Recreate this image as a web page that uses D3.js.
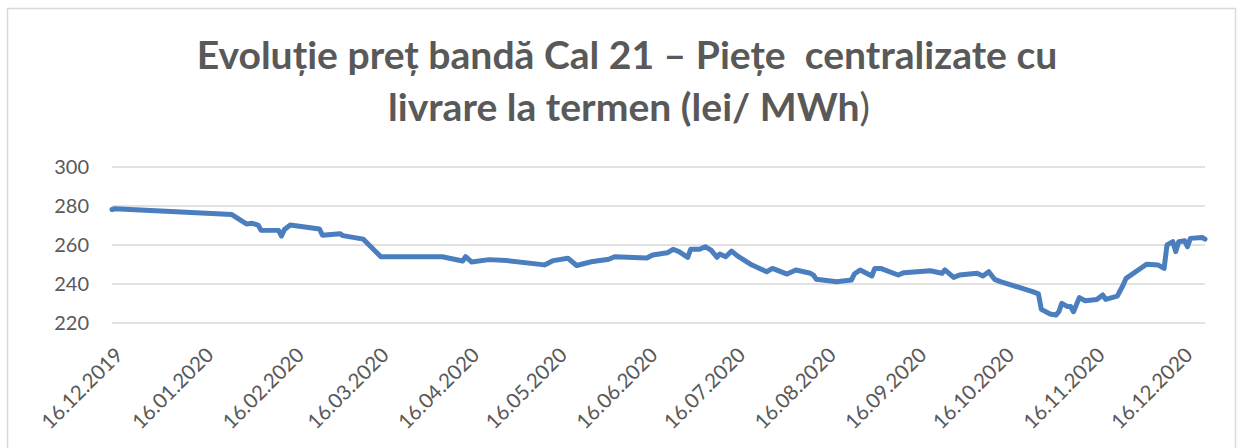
<!DOCTYPE html>
<html>
<head>
<meta charset="utf-8">
<script src="https://cdn.jsdelivr.net/npm/d3@7"></script>
<style>
  body { margin: 0; background: #fff; }
  text { font-family: Lato, "Liberation Sans", sans-serif; fill: #595959; }
</style>
</head>
<body>
<div id="chart"></div>
<script>
//////////////////////////////////////////////////////////////////////////////
// Data: Cal 21 band price (lei/MWh)

var dates = [
  "16.12.2019", "17.12.2019", "26.01.2020", "31.01.2020", "02.02.2020",
  "04.02.2020", "05.02.2020", "11.02.2020", "12.02.2020", "13.02.2020",
  "15.02.2020", "25.02.2020", "26.02.2020", "03.03.2020", "04.03.2020",
  "11.03.2020", "17.03.2020", "07.04.2020", "14.04.2020", "15.04.2020",
  "17.04.2020", "23.04.2020", "29.04.2020", "12.05.2020", "15.05.2020",
  "20.05.2020", "23.05.2020", "28.05.2020", "03.06.2020", "05.06.2020",
  "16.06.2020", "18.06.2020", "23.06.2020", "25.06.2020", "27.06.2020",
  "30.06.2020", "01.07.2020", "04.07.2020", "06.07.2020", "08.07.2020",
  "10.07.2020", "11.07.2020", "13.07.2020", "15.07.2020", "17.07.2020",
  "22.07.2020", "27.07.2020", "29.07.2020", "03.08.2020", "06.08.2020",
  "11.08.2020", "12.08.2020", "13.08.2020", "20.08.2020", "25.08.2020",
  "26.08.2020", "28.08.2020", "01.09.2020", "02.09.2020", "04.09.2020",
  "10.09.2020", "12.09.2020", "21.09.2020", "25.09.2020", "26.09.2020",
  "29.09.2020", "01.10.2020", "07.10.2020", "09.10.2020", "11.10.2020",
  "13.10.2020", "15.10.2020", "26.10.2020", "28.10.2020", "29.10.2020",
  "01.11.2020", "03.11.2020", "04.11.2020", "05.11.2020", "07.11.2020",
  "08.11.2020", "09.11.2020", "11.11.2020", "13.11.2020", "17.11.2020",
  "19.11.2020", "20.11.2020", "24.11.2020", "26.11.2020", "27.11.2020",
  "04.12.2020", "08.12.2020", "10.12.2020", "11.12.2020", "13.12.2020",
  "14.12.2020", "15.12.2020", "17.12.2020", "18.12.2020", "19.12.2020",
  "23.12.2020", "24.12.2020"
];

var prices = [
  278.2, 278.6, 275.6, 270.8, 271.1,
  270.2, 267.6, 267.5, 264.6, 268.0,
  270.3, 268.2, 265.0, 265.8, 264.8,
  263.0, 254.0, 254.0, 251.8, 254.0,
  251.3, 252.5, 252.0, 249.8, 252.0,
  253.2, 249.5, 251.4, 252.7, 254.0,
  253.3, 254.9, 256.0, 257.8, 256.6,
  253.7, 257.8, 257.8, 259.1, 257.4,
  253.7, 255.4, 254.0, 256.9, 254.4,
  249.7, 246.3, 248.0, 245.1, 247.2,
  245.5, 244.6, 242.4, 241.2, 242.0,
  245.1, 247.2, 244.1, 248.0, 248.0,
  244.6, 245.8, 246.8, 245.5, 247.2,
  243.4, 244.6, 245.5, 244.1, 246.3,
  242.4, 241.2, 236.1, 234.9, 227.0,
  224.6, 224.1, 225.8, 230.1, 228.4,
  228.5, 225.8, 233.0, 231.4, 232.1,
  234.4, 232.1, 233.8, 239.5, 242.9,
  250.1, 249.7, 248.0, 260.0, 261.7,
  256.6, 261.7, 262.2, 259.1, 263.4,
  263.9, 263.0
];

var tickDates = [
  "16.12.2019", "16.01.2020", "16.02.2020", "16.03.2020", "16.04.2020",
  "16.05.2020", "16.06.2020", "16.07.2020", "16.08.2020", "16.09.2020",
  "16.10.2020", "16.11.2020", "16.12.2020"
];

var yTicks = [220, 240, 260, 280, 300];

var titleLines = [
  "Evoluție preț bandă Cal 21 – Piețe  centralizate cu",
  "livrare la termen (lei/ MWh"
];

//////////////////////////////////////////////////////////////////////////////
// Layout

var width = 1244, height = 448;
var plot = { left: 112, right: 1205, top: 167, bottom: 323 };

var parseDate = d3.timeParse("%d.%m.%Y");

var series = dates.map(function(d, i) {
    return { date: parseDate(d), value: prices[i] };
});

var xScale = d3.scaleTime()
    .domain([parseDate("16.12.2019"), parseDate("24.12.2020")])
    .range([plot.left, plot.right]);

var yScale = d3.scaleLinear()
    .domain([220, 300])
    .range([plot.bottom, plot.top]);

var svg = d3.select("#chart")
    .append("svg")
    .attr("width", width)
    .attr("height", height);

// chart area border
svg.append("rect")
    .attr("x", 7.5).attr("y", 8.5)
    .attr("width", 1228).attr("height", 460)
    .attr("fill", "none")
    .attr("stroke", "#d9d9d9")
    .attr("stroke-width", 1.5);

//////////////////////////////////////////////////////////////////////////////
// Title

var title = svg.append("g")
    .attr("font-weight", "bold")
    .attr("text-anchor", "middle");

var t1 = title.append("text")
    .attr("x", 627).attr("y", 69)
    .style("white-space", "pre")
    .attr("font-size", 34)
    .text(titleLines[0]);

// fit the first line to the width it has in the picture
var fs = 34 * 861 / t1.node().getComputedTextLength();
t1.attr("font-size", fs);

var t2 = title.append("text")
    .attr("x", 629).attr("y", 121)
    .attr("font-size", fs);
t2.append("tspan").text(titleLines[1]);
t2.append("tspan").attr("font-weight", "normal").text(")");

//////////////////////////////////////////////////////////////////////////////
// Axes and grid

var grid = svg.append("g");
grid.selectAll("line")
    .data(yTicks)
    .enter()
    .append("line")
    .attr("x1", plot.left)
    .attr("x2", plot.right)
    .attr("y1", function(d) { return yScale(d); })
    .attr("y2", function(d) { return yScale(d); })
    .attr("stroke", "#d9d9d9")
    .attr("stroke-width", 1.5);

svg.append("g")
    .selectAll("text")
    .data(yTicks)
    .enter()
    .append("text")
    .attr("x", 89)
    .attr("y", function(d) { return yScale(d); })
    .attr("dy", "0.36em")
    .attr("text-anchor", "end")
    .attr("font-size", 20)
    .text(function(d) { return d; });

svg.append("g")
    .selectAll("text")
    .data(tickDates)
    .enter()
    .append("text")
    .attr("transform", function(d) {
        return "translate(" + (xScale(parseDate(d)) + 7) + ",351) rotate(-45)";
    })
    .attr("dy", "0.36em")
    .attr("text-anchor", "end")
    .attr("font-size", 20.5)
    .text(function(d) { return d; });

//////////////////////////////////////////////////////////////////////////////
// The price line

var line = d3.line()
    .x(function(d) { return xScale(d.date); })
    .y(function(d) { return yScale(d.value); });

svg.append("path")
    .datum(series)
    .attr("d", line)
    .attr("fill", "none")
    .attr("stroke", "#4a7ebf")
    .attr("stroke-width", 5)
    .attr("stroke-linejoin", "round")
    .attr("stroke-linecap", "round");
</script>
</body>
</html>
